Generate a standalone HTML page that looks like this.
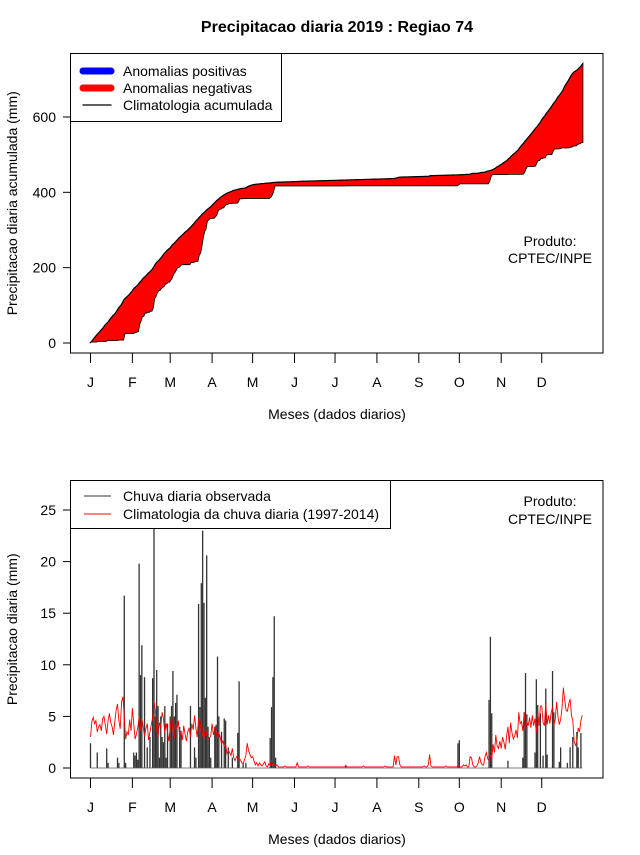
<!DOCTYPE html>
<html><head><meta charset="utf-8"><style>
body{margin:0;background:#fff}
svg text{font-family:"Liberation Sans",sans-serif;fill:#000}
</style></head><body>
<svg id="c" width="640" height="850" xmlns="http://www.w3.org/2000/svg">
<rect width="640" height="850" fill="#fff"/>
<text x="337" y="32" font-size="16" font-weight="bold" text-anchor="middle">Precipitacao diaria 2019 : Regiao 74</text>
<g id="top"></g><g id="bot"></g>
</svg>
<script>
const monthLabels=["J","F","M","A","M","J","J","A","S","O","N","D"];
const monthStart=[1,32,60,91,121,152,182,213,244,274,305,335];
const topTicks=[0,200,400,600];
const botTicks=[0,5,10,15,20,25];
const climJan=[3.0,4.5,4.9,4.3,4.6,3.5,4.0,4.2,3.6,4.8,5.0,4.1,3.3,4.6,5.3,4.4,4.0,3.2,4.5,5.6,6.2,4.6,3.8,6.4,6.9,5.0,2.8,3.5,3.2,4.7,3.6];
const climFeb=[5.8,4.3,2.8,3.3,3.9,5.0,3.6,4.8,4.0,3.1,3.8,4.3,2.7,3.5,4.2,4.9,6.5,5.6,3.7,3.0,4.4,3.9,5.4,4.8,3.4,4.3,3.5,2.6];
const climMar=[3.9,5.0,3.6,2.9,4.2,3.8,4.6,3.0,3.5,2.7,4.1,3.3,2.6,3.5,3.9,3.0,4.3,3.7,5.1,3.9,3.0,4.8,3.5,4.5,3.1,2.9,3.8,3.3,2.8,2.9,3.1];
const climApr=[4.3,3.2,3.8,3.5,2.9,3.4,3.0,2.3,2.6,2.1,2.3,1.4,1.7,1.5,1.2,1.9,1.0,0.7,1.1,1.0,0.8,0.8,0.5,0.4,0.8,1.2,2.4,1.7,1.3,1.0];
const climMay=[1.1,0.7,0.3,0.5,0.2,0.5,0.3,0.2,0.4,0.6,0.2,0.1,0.4,0.3,0.7,0.3,0.3,0.2,0.3,0.1,0.1,0.1,0.1,0.1,0.2,0.1,0.1,0.1,0.1,0.1,0.1];
const climJun=[0.1,0.1,0.5,0.1,0.1,0.1,0.1,0.1,0.1,0.1,0.2,0.1,0.1,0.1,0.1,0.1,0.1,0.1,0.1,0.1,0.1,0.1,0.1,0.1,0.1,0.1,0.1,0.1,0.1,0.1];
const climJul=[0.1,0.1,0.1,0.1,0.1,0.1,0.1,0.1,0.2,0.1,0.1,0.1,0.1,0.1,0.1,0.1,0.1,0.1,0.1,0.1,0.1,0.2,0.1,0.1,0.1,0.1,0.1,0.1,0.1,0.1,0.1];
const climAug=[0.1,0.1,0.1,0.1,0.1,0.1,0.2,0.1,0.1,0.1,0.1,0.1,0.1,1.2,0.3,1.1,1.1,0.3,0.1,0.1,0.1,0.1,0.1,0.1,0.1,0.1,0.1,0.1,0.1,0.1,0.1];
const climSep=[0.1,0.1,0.1,0.1,0.2,0.1,0.1,0.3,1.3,0.2,0.1,0.1,0.1,0.1,0.1,0.1,0.1,0.1,0.1,0.1,0.2,0.1,0.1,0.1,0.1,0.1,0.1,0.1,0.1,0.2];
const climOct=[0.1,0.1,0.1,0.3,0.2,0.3,0.1,0.1,1.1,1.0,0.3,0.1,0.1,0.2,0.5,1.1,0.5,0.3,0.3,1.1,1.5,0.9,0.7,1.2,0.9,2.3,1.5,3.2,2.1,1.9,2.6];
const climNov=[1.9,3.0,2.5,1.8,3.1,4.0,2.4,4.4,3.4,2.8,3.1,3.7,2.9,5.4,4.3,4.5,3.6,5.4,3.7,4.5,4.1,4.9,3.9,5.1,4.1,4.8,3.4,5.6,4.1,6.0];
const climDec=[6.0,4.4,4.1,6.3,4.2,5.1,4.3,5.4,5.9,4.1,4.7,6.4,5.0,4.2,4.7,5.8,7.8,6.6,5.6,5.5,6.2,6.7,5.1,4.6,2.6,2.2,2.5,3.9,3.5,4.6,5.1];
const obsJan=[2.4,0,0,0,0,1.5,0,0,0,0,0,0,1.9,0.5,0,0,0,0,0,0,1.0,0.5,0,0,0,16.7,0.5,0,0,0,0];
const obsFeb=[0,1.5,1.2,1.5,0.8,19.8,9.0,11.9,0,8.8,0,2.0,0,3.0,0,8.7,25,5.0,9.5,6.0,1.0,5.0,3.0,2.5,6.0,1.0,4.3,0];
const obsMar=[5.0,6.0,9.4,5.0,6.3,7.1,0,4.0,3.6,0,0,0,0,0,0,6.0,0,0,2.0,1.0,0,15.9,5.9,17.9,23,16,6.8,20.6,4,3,1];
const obsApr=[0,0,4,4.2,10.8,5,0,3.5,0,4.8,4.6,0,2.0,0,0,1.0,0,0,0,3.4,8.4,0,0,0.5,0,0.5,0,0,0,0];
const obsMay=[0,0,0,0,0,0,0,0,0,0,0,0,0,2.9,5.9,8.8,14.7,1.0,0,0,0,0,0,0,0,0,0,0,0,0,0];
const obsJun=[0,0,0,0,0,0,0,0,0,0,0,0,0,0,0,0,0,0,0,0,0,0,0,0,0,0,0,0,0,0];
const obsJul=[0,0,0,0,0,0,0,0,0.3,0,0,0,0,0,0,0,0,0,0,0,0,0,0,0,0,0,0,0,0,0,0];
const obsAug=[0,0,0,0,0,0,0,0,0,0,0,0,0,0,0,0,0,0,0,0,0,0,0,0,0,0,0,0,0,0,0];
const obsSep=[0,0,0,0,0,0,0,0,0,0,0,0,0,0,0,0,0,0,0,0,0,0,0,0,0,0,0,0,0,2.4];
const obsOct=[2.7,0,0,0,0,0,0,0,0,0,0,0,0,0,0,0,0,0,0,0,0,0,6.6,12.7,5.3,0,0,0,0,0,0];
const obsNov=[0,0,0,0,0,0.7,0,0,0,0,0,0,0,0,0,0,1.0,5.4,9.2,5.2,0,0,0,0,0,1.5,8.6,6.1,0,5.3];
const obsDec=[0,1.2,0,7.7,1.3,0,0,0,9.4,5.4,0,0,0,0.6,2.0,0,0,0,0,0.5,0,2.0,0,3.0,0,0,3.5,2.0,0,3.4,0];

const clim=[].concat(climJan,climFeb,climMar,climApr,climMay,climJun,climJul,climAug,climSep,climOct,climNov,climDec);
const obs=[].concat(obsJan,obsFeb,obsMar,obsApr,obsMay,obsJun,obsJul,obsAug,obsSep,obsOct,obsNov,obsDec);
const NS="http://www.w3.org/2000/svg";
function mk(p,t,a){const e=document.createElementNS(NS,t);for(const k in a)e.setAttribute(k,a[k]);p.appendChild(e);return e;}
const xd=d=>90.5+(d-1)*1.351;
const yTop=v=>343-v*0.3767;
const yBot=v=>768-v*10.32;

function frame(g,top,bot,ticks,ys,ylab,name){
  const f=mk(g,'rect',{x:70.5,y:top,width:532.5,height:bot-top,fill:'none',stroke:'#000','stroke-width':1});
  
  
  ticks.forEach(t=>{
    const y=ys(t);
    const l=mk(g,'line',{x1:63,x2:70.5,y1:y,y2:y,stroke:'#000'});
    
    
    const tx=mk(g,'text',{x:56,y:y+5,'font-size':14,'text-anchor':'end'});tx.textContent=t;
    
    
  });
  monthStart.forEach((d,i)=>{
    const x=xd(d);
    const l=mk(g,'line',{x1:x,x2:x,y1:bot,y2:bot+10,stroke:'#000'});
    
    
    const tx=mk(g,'text',{x:x,y:bot+34,'font-size':14,'text-anchor':'middle'});tx.textContent=monthLabels[i];
    
    
  });
  const xt=mk(g,'text',{x:337,y:bot+66,'font-size':14,'text-anchor':'middle'});xt.textContent='Meses (dados diarios)';
  
  
  const cy=(top+bot)/2;
  const yt=mk(g,'text',{x:17,y:cy,'font-size':14,'text-anchor':'middle',transform:`rotate(-90 17 ${cy})`});yt.textContent=ylab;
  
  
}

// TOP
const gt=document.getElementById('top');
let cc=[0],co=[0];
for(let i=0;i<365;i++){cc.push(cc[i]+clim[i]);co.push(co[i]+obs[i]);}
let up=[],lo=[];
for(let i=0;i<=365;i++){const d=i+0.5;up.push(xd(d)+','+yTop(cc[i]));lo.push(xd(d)+','+yTop(co[i]));}
const poly=mk(gt,'polygon',{points:up.concat(lo.slice().reverse()).join(' '),fill:'#ff0000',stroke:'#000','stroke-width':0.8});


const cl=mk(gt,'polyline',{points:up.join(' '),fill:'none',stroke:'#000','stroke-width':1.2});


frame(gt,53.5,353,topTicks,yTop,'Precipitacao diaria acumulada (mm)','top');
const lg=mk(gt,'g',{});


mk(lg,'rect',{x:70.5,y:53.5,width:211,height:68,fill:'#fff',stroke:'#000'});
[['Anomalias positivas','#0000ff',7],['Anomalias negativas','#ff0000',7],['Climatologia acumulada','#000',1.3]].forEach((e,i)=>{
  const y=71+i*17;
  const l=mk(lg,'line',{x1:83,x2:111,y1:y,y2:y,stroke:e[1],'stroke-width':e[2],'stroke-linecap':'round'});
  
  
  const t=mk(lg,'text',{x:123,y:y+5,'font-size':14});t.textContent=e[0];
  
  
});
[['Produto:',246],['CPTEC/INPE',263]].forEach(p=>{
  const t=mk(gt,'text',{x:550,y:p[1],'font-size':14,'text-anchor':'middle'});t.textContent=p[0];
  
  
});

// BOTTOM
const gb=document.getElementById('bot');
obs.forEach((v,i)=>{
  if(v<=0)return;
  const x=xd(i+1);
  const b=mk(gb,'line',{x1:x,x2:x,y1:yBot(0),y2:Math.max(yBot(v),480.5),stroke:'#333','stroke-width':1.3});
  
  
});
const bl=mk(gb,'line',{x1:xd(1),x2:xd(365),y1:yBot(0),y2:yBot(0),stroke:'#555','stroke-width':0.8});


const cp=mk(gb,'polyline',{points:clim.map((v,i)=>xd(i+1)+','+yBot(v)).join(' '),fill:'none',stroke:'#ff0000','stroke-width':0.9});


frame(gb,480.5,778,botTicks,yBot,'Precipitacao diaria (mm)','bottom');
const lb=mk(gb,'g',{});


mk(lb,'rect',{x:70.5,y:480.5,width:320,height:48,fill:'#fff',stroke:'#000'});
[['Chuva diaria observada','#333'],['Climatologia da chuva diaria (1997-2014)','#ff0000']].forEach((e,i)=>{
  const y=496+i*18;
  const l=mk(lb,'line',{x1:84,x2:111,y1:y,y2:y,stroke:e[1],'stroke-width':1});
  
  
  const t=mk(lb,'text',{x:123,y:y+5,'font-size':14});t.textContent=e[0];
  
  
});
[['Produto:',506],['CPTEC/INPE',524]].forEach(p=>{
  const t=mk(gb,'text',{x:550,y:p[1],'font-size':14,'text-anchor':'middle'});t.textContent=p[0];
  
  
});
</script>
</body></html>
